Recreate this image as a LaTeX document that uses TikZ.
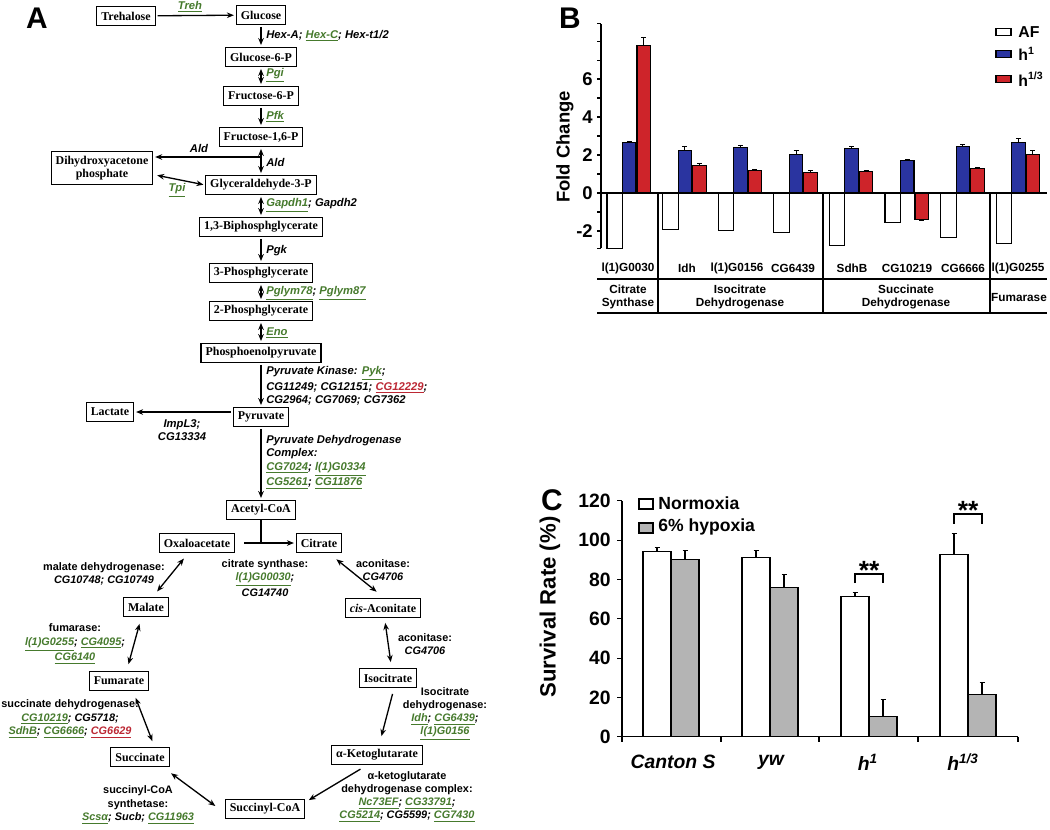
\documentclass[tikz,border=0pt]{standalone}
\usepackage{fontspec}
\setmainfont{Liberation Serif}
\setsansfont{Liberation Sans}
\usetikzlibrary{arrows.meta,positioning,calc}
\definecolor{genegreen}{RGB}{70,122,45}
\definecolor{genered}{RGB}{188,40,52}
\definecolor{hblue}{RGB}{42,52,160}
\definecolor{hred}{RGB}{206,36,42}
\definecolor{hypgrey}{RGB}{180,180,180}
\newcommand{\ggene}[1]{{\color{genegreen}\underline{#1}}}
\newcommand{\rgene}[1]{{\color{genered}\underline{#1}}}
\tikzset{
  >={Stealth[length=4pt,width=3.2pt]},
  met/.style={draw,line width=0.6pt,fill=white,inner xsep=2.6pt,inner ysep=0pt,minimum height=11pt,
    font=\fontsize{6.8}{7.6}\selectfont\rmfamily\bfseries,align=center},
  rxn/.style={->,line width=0.75pt,shorten >=1pt,shorten <=1pt},
  rev/.style={<->,line width=0.75pt,shorten >=1pt,shorten <=1pt},
  enz/.style={inner sep=0pt,font=\fontsize{6.4}{7.7}\selectfont\sffamily\bfseries\itshape,align=#1},
  enz/.default=center,
  tca/.style={enz,font=\fontsize{6.2}{7.5}\selectfont\sffamily\bfseries\itshape},
  panel/.style={font=\fontsize{17}{17}\selectfont\sffamily\bfseries,inner sep=0pt},
  gene/.style={font=\fontsize{6.7}{7.4}\selectfont\sffamily\bfseries,inner sep=0pt,align=center},
  ticklab/.style={font=\fontsize{#1}{#1}\selectfont\sffamily\bfseries,inner sep=0pt,anchor=east},
  axlab/.style={font=\fontsize{#1}{#1}\selectfont\sffamily\bfseries,inner sep=0pt,rotate=90},
  legtext/.style={font=\fontsize{#1}{#1}\selectfont\sffamily\bfseries,inner sep=0pt,anchor=west},
  bar/.style={draw,line width=0.6pt,fill=#1},
  errbar/.style={line width=0.6pt},
}

\begin{document}
\begin{tikzpicture}[x=0.02cm,y=-0.02cm]
\useasboundingbox (0,0) rectangle (1050,829);
% ---- A: glycolysis
\node[panel] (la) at (37,18) {A};
\node[met] (treh) at (126,16) {Trehalose};
\node[met] (glc) at (261,15) {Glucose};
\node[met] (g6p) at (261,57) {Glucose-6-P};
\node[met] (f6p) at (261,96) {Fructose-6-P};
\node[met] (f16p) at (261,137) {Fructose-1,6-P};
\node[met,minimum height=19pt] (dhap) at (102,168) {Dihydroxyacetone\\phosphate};
\node[met] (g3p) at (261,185) {Glyceraldehyde-3-P};
\node[met] (bpg) at (261,227) {1,3-Biphosphglycerate};
\node[met] (pg3) at (261,273) {3-Phosphglycerate};
\node[met] (pg2) at (261,311) {2-Phosphglycerate};
\node[met] (pep) at (261,353) {Phosphoenolpyruvate};
\node[met] (pyr) at (261,417) {Pyruvate};
\node[met] (lac) at (110,412) {Lactate};
\node[met] (accoa) at (261,510) {Acetyl-CoA};

\draw[rxn] (treh) -- (glc);
\node[enz] (ltreh) at (190,7) {\ggene{Treh}};
\draw[rxn] (glc) -- (g6p);
\node[enz=left,anchor=west] (lhex) at (266,36) {Hex-A; \ggene{Hex-C}; Hex-t1/2};
\draw[rev] (g6p) -- (f6p);
\node[enz=left,anchor=west] (lpgi) at (266,75) {\ggene{Pgi}};
\draw[rxn] (f6p) -- (f16p);
\node[enz=left,anchor=west] (lpfk) at (266,117) {\ggene{Pfk}};
\draw[rev] (f16p) -- (g3p);
\node[enz=left,anchor=west] (lald) at (266,162) {Ald};
\coordinate (ald) at (261,157);
\draw[rxn,shorten <=0pt] (ald) -- (ald -| dhap.east);
\node[enz] (lald2) at (199,148) {Ald};
\draw[rev] ($(dhap.east)+(2,7)$) -- (g3p.west);
\node[enz] (ltpi) at (177,190) {\ggene{Tpi}};
\draw[rev] (g3p) -- (bpg);
\node[enz=left,anchor=west] (lgapdh) at (266,205) {\ggene{Gapdh1}; Gapdh2};
\draw[rxn] (bpg) -- (pg3);
\node[enz=left,anchor=west] (lpgk) at (266,251) {Pgk};
\draw[rev] (pg3) -- (pg2);
\node[enz=left,anchor=west] (lpglym) at (266,293) {\ggene{Pglym78}; \ggene{Pglym87}};
\draw[rev] (pg2) -- (pep);
\node[enz=left,anchor=west] (leno) at (266,333) {\ggene{Eno}};
\draw[rxn] (pep) -- (pyr);
\node[enz=left,anchor=west] (lpk) at (266,386) {Pyruvate Kinase: \ggene{Pyk};\\
  CG11249; CG12151; \rgene{CG12229};\\CG2964; CG7069; CG7362};
\draw[rxn] (pyr.west |- lac) -- (lac.east);
\node[enz] (limpl) at (182,430) {ImpL3;\\CG13334};
\draw[rxn] (pyr) -- (accoa);
\node[enz=left,anchor=west] (lpdc) at (266,462) {Pyruvate Dehydrogenase\\Complex:\\
  \ggene{CG7024}; \ggene{l(1)G0334}\\\ggene{CG5261}; \ggene{CG11876}};

% ---- A: TCA cycle
\node[met] (oaa) at (197,543) {Oxaloacetate};
\node[met] (cit) at (319,543) {Citrate};
\node[met] (mal) at (146,607) {Malate};
\node[met] (cisac) at (383,608) {\textit{cis}-Aconitate};
\node[met] (fum) at (119,681) {Fumarate};
\node[met] (isocit) at (388,678) {Isocitrate};
\node[met] (suc) at (140,757) {Succinate};
\node[met] (akg) at (377,755) {α-Ketoglutarate};
\node[met] (succoa) at (265,809) {Succinyl-CoA};

\draw[line width=0.75pt] (accoa.south) -- (accoa.south |- oaa.east);
\draw[rxn,shorten <=5pt] (oaa.east) -- (cit.west);
\node[tca] (lcs) at (265,578) {\upshape citrate synthase:\\\ggene{l(1)G00030};\\CG14740};
\draw[rev] ($(oaa.south)+(-12,4)$) -- ($(mal.north)+(10,-4)$);
\node[tca] (lmdh) at (104,574) {\upshape malate dehydrogenase:\\CG10748; CG10749};
\draw[rev] ($(cit.south)+(16,5)$) -- ($(cisac.north)+(-5,-5)$);
\node[tca] (laco) at (383,570) {\upshape aconitase:\\CG4706};
\draw[rev] ($(mal.south)+(-6,5)$) -- ($(fum.north)+(9,-5)$);
\node[tca] (lfum) at (75,644) {\upshape fumarase:\\\ggene{l(1)G0255}; \ggene{CG4095};\\\ggene{CG6140}};
\draw[rev] ($(cisac.south)+(2,3)$) -- ($(isocit.north)+(3,-4)$);
\node[tca] (laco2) at (425,644) {\upshape aconitase:\\CG4706};
\draw[rev] ($(fum.south)+(16,5)$) -- ($(suc.north)+(13,-4)$);
\node[tca] (lsdh) at (70,719) {\upshape succinate dehydrogenase:\\\ggene{CG10219}; CG5718;\\
  \ggene{SdhB}; \ggene{CG6666}; \rgene{CG6629}};
\draw[rxn] ($(isocit.south)+(5,4)$) -- ($(akg.north)+(4,-7)$);
\node[tca] (lidh) at (445,714) {\upshape Isocitrate\\\upshape dehydrogenase:\\
  \ggene{Idh}; \ggene{CG6439};\\\ggene{l(1)G0156}};
\draw[rev] ($(suc.south east)+(0,5)$) -- ($(succoa.west)+(-8,-2)$);
\node[tca] (lscs) at (138,805) {\upshape succinyl-CoA\\\upshape synthetase:\\
  \ggene{Scsα}; Sucb; \ggene{CG11963}};
\draw[rxn] ($(akg.south)+(-15,3)$) -- ($(succoa.east)+(2,-8)$);
\node[tca] (lkdh) at (407,797) {\upshape α-ketoglutarate\\\upshape dehydrogenase complex:\\
  \ggene{Nc73EF}; \ggene{CG33791};\\\ggene{CG5214}; CG5599; \ggene{CG7430}};

% ---- B: fold change
\node[panel] (lb) at (570,18) {B};
\begin{scope}[shift={(0,193)},y=0.38cm]
  \foreach \i/\af/\ha/\ea/\hb/\eb in {0/-2.9/2.65/2.71/7.75/8.18, 1/-1.9/2.25/2.43/1.45/1.53,
      2/-1.95/2.4/2.5/1.2/1.26, 3/-2.1/2.05/2.23/1.1/1.18, 4/-2.75/2.35/2.47/1.15/1.2,
      5/-1.55/1.7/1.76/-1.4/-1.45, 6/-2.35/2.45/2.55/1.3/1.35, 7/-2.65/2.65/2.85/2.05/2.23}{
    \pgfmathsetmacro\xa{607+55.6*\i}
    \draw[errbar] (\xa+22.25,\ha) -- (\xa+22.25,\ea) ++(-2.5,0) -- ++(5,0);
    \draw[errbar] (\xa+36.75,\hb) -- (\xa+36.75,\eb) ++(-2.5,0) -- ++(5,0);
    \draw[bar=white] (\xa,0) rectangle ++(15.5,\af);
    \draw[bar=hblue] (\xa+15.5,0) rectangle ++(13.5,\ha);
    \draw[bar=hred] (\xa+30,0) rectangle ++(13.5,\hb);
  }
  \draw[line width=0.7pt] (601,-2.9) -- (601,8.9);
  \foreach \v in {-2.9,-2,-1,0,1,2,3,4,5,6,7,8,8.9} \draw[line width=0.6pt] (597,\v) -- (601,\v);
  \foreach \v in {-2,0,2,4,6} \node[ticklab=10.5] (tb\v) at (593,\v) {\v};
  \draw[line width=0.7pt] (601,0) -- (1047,0);
\end{scope}
\node[axlab=10.5] (ylb) at (565,147) {Fold Change};
\foreach \x in {658,823,990} \draw[line width=0.6pt] (\x,193) -- (\x,313);
\draw[line width=0.9pt] (597,279) -- (1047,279);
\draw[line width=0.9pt] (597,313) -- (1047,313);
\foreach \x/\g [count=\k] in {628/{l(1)G0030}, 687/Idh, 737/{l(1)G0156}, 793/CG6439,
    852/SdhB, 907/CG10219, 963/CG6666, 1018/{l(1)G0255}}
  \node[gene] (gb\k) at (\x,268) {\g};
\node[gene] (grcs) at (628,297) {Citrate\\Synthase};
\node[gene] (gridh) at (740,297) {Isocitrate\\Dehydrogenase};
\node[gene] (grsdh) at (906,297) {Succinate\\Dehydrogenase};
\node[gene] (grfum) at (1019,297) {Fumarase};
\foreach \y/\c/\t [count=\k] in {32/white/AF, 54/hblue/{h\textsuperscript{1}}, 79/hred/{h\textsuperscript{1/3}}}{
  \draw[bar=\c] (996,\y-3.5) rectangle (1011,\y+3.5);
  \node[legtext=9] (lgb\k) at (1018,\y) {\t};
}

% ---- C: survival
\node[panel] (lc) at (552,500) {C};
\begin{scope}[shift={(0,736.7)},y=0.03934cm]
  \foreach \i/\n/\en/\h/\eh in {0/94/96.3/90.2/94.6, 1/91.2/94.9/75.9/82.5,
      2/71.5/73.2/10.2/19, 3/92.9/103.4/21.5/27.8}{
    \pgfmathsetmacro\xc{622+99*\i+21}
    \draw[errbar] (\xc+14,\n) -- (\xc+14,\en) ++(-2.5,0) -- ++(5,0);
    \draw[errbar] (\xc+42,\h) -- (\xc+42,\eh) ++(-2.5,0) -- ++(5,0);
    \draw[bar=white] (\xc,0) rectangle ++(28,\n);
    \draw[bar=hypgrey] (\xc+28,0) rectangle ++(28,\h);
  }
  \draw[line width=0.7pt] (622,0) -- (622,120);
  \foreach \v in {0,20,...,120}{
    \draw[line width=0.6pt] (617,\v) -- (622,\v);
    \node[ticklab=11] (tc\v) at (611,\v) {\v};
  }
  \draw[line width=0.7pt] (622,0) -- (1018,0);
  \foreach \x in {622,721,819,918,1018} \draw[line width=0.6pt] (\x,0) -- (\x,-2.5);
  \draw[line width=0.7pt] (855,78.1) -- (855,82.7) -- (883,82.7) -- (883,78.1);
  \node[font=\fontsize{15}{15}\selectfont\sffamily\bfseries,inner sep=0pt] (sig1) at (869,84.5) {**};
  \draw[line width=0.7pt] (954,108.2) -- (954,113.3) -- (982,113.3) -- (982,108.2);
  \node[font=\fontsize{15}{15}\selectfont\sffamily\bfseries,inner sep=0pt] (sig2) at (968,115) {**};
\end{scope}
\node[axlab=12.6] (ylc) at (550,607) {Survival Rate (\%)};
\draw[bar=white] (639,499) rectangle (653,509);
\node[legtext=10] (lgn) at (658,503) {Normoxia};
\draw[bar=hypgrey] (639,523) rectangle (653,533);
\node[legtext=10] (lgh) at (658,527) {6\% hypoxia};
\foreach \x/\t [count=\k] in {673/Canton S, 771/yw, 868/{h\textsuperscript{1}}, 963/{h\textsuperscript{1/3}}}
  \node[font=\fontsize{11}{11}\selectfont\sffamily\bfseries\itshape,inner sep=0pt] (xc\k) at (\x,762) {\t};
\end{tikzpicture}
\end{document}
